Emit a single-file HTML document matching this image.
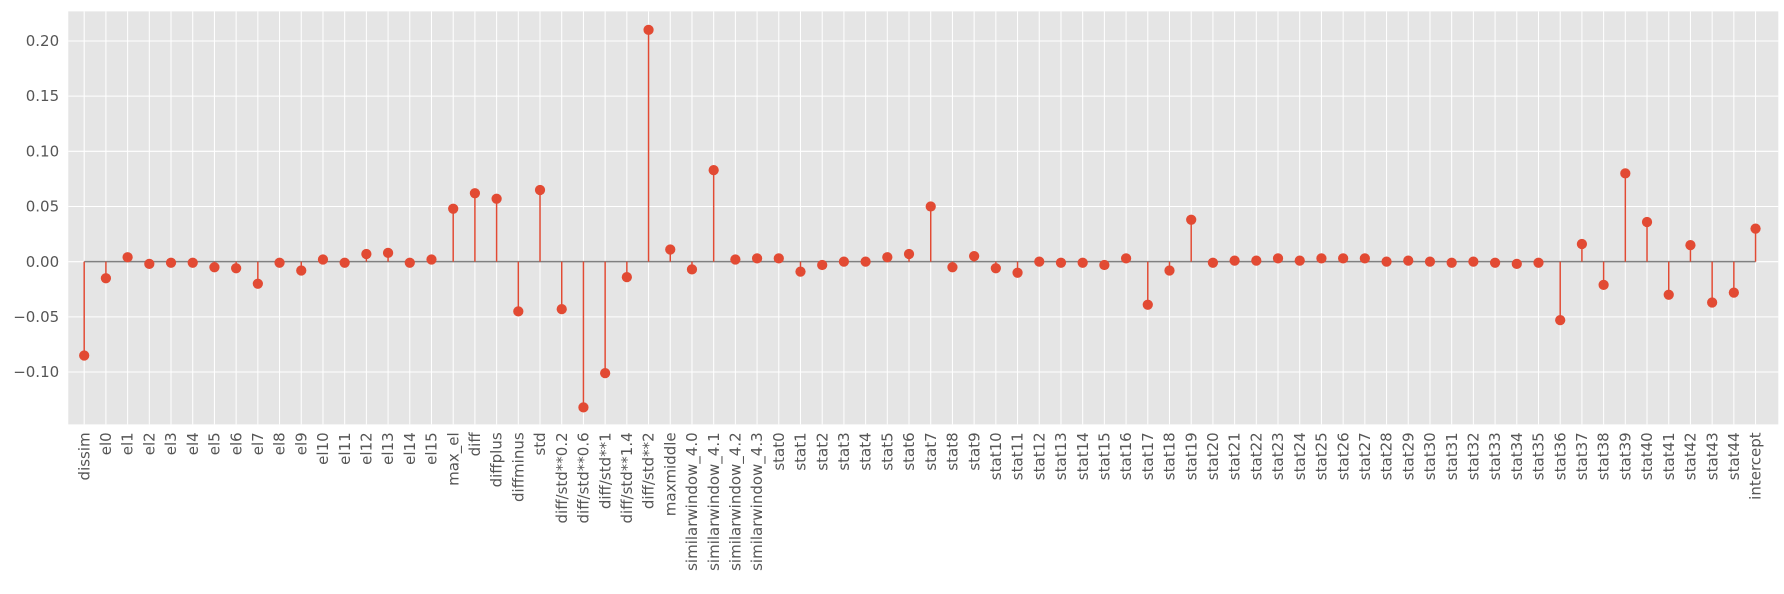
<!DOCTYPE html>
<html><head><meta charset="utf-8"><style>
body{margin:0;background:#fff;font-family:"Liberation Sans","DejaVu Sans",sans-serif;overflow:hidden}
svg text{font-family:"DejaVu Sans","Liberation Sans",sans-serif;fill:#555;font-size:13.2px}
</style></head><body>
<svg id="chart" width="1784" height="589" viewBox="0 0 1568 517.7" preserveAspectRatio="none" xmlns="http://www.w3.org/2000/svg"></svg>
<script>
const categories=["dissim","el0","el1","el2","el3","el4","el5","el6","el7","el8","el9","el10","el11","el12","el13","el14","el15","max_el","diff","diffplus","diffminus","std","diff/std**0.2","diff/std**0.6","diff/std**1","diff/std**1.4","diff/std**2","maxmiddle","similarwindow_4.0","similarwindow_4.1","similarwindow_4.2","similarwindow_4.3","stat0","stat1","stat2","stat3","stat4","stat5","stat6","stat7","stat8","stat9","stat10","stat11","stat12","stat13","stat14","stat15","stat16","stat17","stat18","stat19","stat20","stat21","stat22","stat23","stat24","stat25","stat26","stat27","stat28","stat29","stat30","stat31","stat32","stat33","stat34","stat35","stat36","stat37","stat38","stat39","stat40","stat41","stat42","stat43","stat44","intercept"];
const values=[-0.085,-0.015,0.004,-0.002,-0.001,-0.001,-0.005,-0.006,-0.020,-0.001,-0.008,0.002,-0.001,0.007,0.008,-0.001,0.002,0.048,0.062,0.057,-0.045,0.065,-0.043,-0.132,-0.101,-0.014,0.210,0.011,-0.007,0.083,0.002,0.003,0.003,-0.009,-0.003,0.000,0.000,0.004,0.007,0.050,-0.005,0.005,-0.006,-0.010,0.000,-0.001,-0.001,-0.003,0.003,-0.039,-0.008,0.038,-0.001,0.001,0.001,0.003,0.001,0.003,0.003,0.003,0.000,0.001,0.000,-0.001,0.000,-0.001,-0.002,-0.001,-0.053,0.016,-0.021,0.080,0.036,-0.030,0.015,-0.037,-0.028,0.030];
const yTicks=[-0.10,-0.05,0.00,0.05,0.10,0.15,0.20];
const tickLabels=["−0.10","−0.05","0.00","0.05","0.10","0.15","0.20"];
const NS="http://www.w3.org/2000/svg";
const svg=document.getElementById('chart');
const L=60,R=1563,T=10,B=373;
const x=i=>74+i*(1543-74)/(categories.length-1);
const y=v=>230-v*970;
function mk(tag,a,p){const e=document.createElementNS(NS,tag);for(const k in a)e.setAttribute(k,a[k]);(p||svg).appendChild(e);return e;}
const bg=mk('rect',{x:L,y:T,width:R-L,height:B-T,fill:'#E5E5E5'});


categories.forEach((c,i)=>{
  const g=mk('line',{x1:x(i),x2:x(i),y1:T,y2:B,stroke:'#fff','stroke-width':0.9});
  
  
  const t=mk('text',{x:0,y:0,transform:`translate(${x(i)+4.5},380) rotate(-90)`,'text-anchor':'end'});
  t.textContent=c;
  
  
});
yTicks.forEach((v,i)=>{
  const g=mk('line',{x1:L,x2:R,y1:y(v),y2:y(v),stroke:'#fff','stroke-width':0.9});
  
  
  const t=mk('text',{x:L-8,y:y(v)+4.5,'text-anchor':'end'});
  t.textContent=tickLabels[i];
  
  
});
const base=mk('line',{x1:x(0),x2:x(categories.length-1),y1:y(0),y2:y(0),stroke:'#808080','stroke-width':1.3});


values.forEach((v,i)=>{
  const s=mk('line',{x1:x(i),x2:x(i),y1:y(0),y2:y(v),stroke:'#E24A33','stroke-width':1.3});
  
  
});
values.forEach((v,i)=>{
  const m=mk('circle',{cx:x(i),cy:y(v),r:4.5,fill:'#E24A33'});
  
  
});
</script>
</body></html>
